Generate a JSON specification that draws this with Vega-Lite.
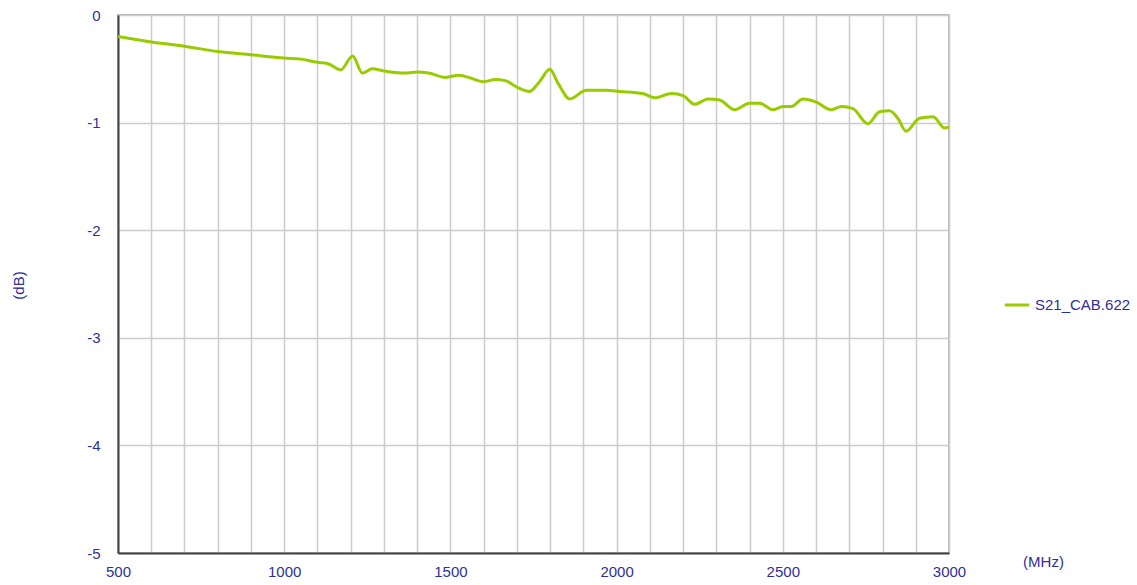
{
  "$schema": "https://vega.github.io/schema/vega-lite/v6.json",
  "width": 831,
  "height": 538,
  "autosize": {"type": "none"},
  "padding": {"left": 118, "top": 15, "right": 188, "bottom": 32},
  "background": "white",
  "config": {
    "view": {"stroke": "#a0a0a0", "strokeWidth": 1.5},
    "font": "Liberation Sans"
  },
  "data": {
    "values": [
      {"f": 500, "db": -0.20, "s": "S21_CAB.622"},
      {"f": 600, "db": -0.25, "s": "S21_CAB.622"},
      {"f": 700, "db": -0.29, "s": "S21_CAB.622"},
      {"f": 800, "db": -0.34, "s": "S21_CAB.622"},
      {"f": 900, "db": -0.37, "s": "S21_CAB.622"},
      {"f": 1000, "db": -0.40, "s": "S21_CAB.622"},
      {"f": 1050, "db": -0.41, "s": "S21_CAB.622"},
      {"f": 1100, "db": -0.44, "s": "S21_CAB.622"},
      {"f": 1130, "db": -0.45, "s": "S21_CAB.622"},
      {"f": 1170, "db": -0.51, "s": "S21_CAB.622"},
      {"f": 1206, "db": -0.38, "s": "S21_CAB.622"},
      {"f": 1235, "db": -0.54, "s": "S21_CAB.622"},
      {"f": 1265, "db": -0.50, "s": "S21_CAB.622"},
      {"f": 1300, "db": -0.52, "s": "S21_CAB.622"},
      {"f": 1365, "db": -0.54, "s": "S21_CAB.622"},
      {"f": 1400, "db": -0.53, "s": "S21_CAB.622"},
      {"f": 1435, "db": -0.54, "s": "S21_CAB.622"},
      {"f": 1485, "db": -0.58, "s": "S21_CAB.622"},
      {"f": 1525, "db": -0.56, "s": "S21_CAB.622"},
      {"f": 1555, "db": -0.58, "s": "S21_CAB.622"},
      {"f": 1600, "db": -0.62, "s": "S21_CAB.622"},
      {"f": 1635, "db": -0.60, "s": "S21_CAB.622"},
      {"f": 1665, "db": -0.61, "s": "S21_CAB.622"},
      {"f": 1700, "db": -0.67, "s": "S21_CAB.622"},
      {"f": 1738, "db": -0.71, "s": "S21_CAB.622"},
      {"f": 1768, "db": -0.62, "s": "S21_CAB.622"},
      {"f": 1799, "db": -0.505, "s": "S21_CAB.622"},
      {"f": 1824, "db": -0.635, "s": "S21_CAB.622"},
      {"f": 1859, "db": -0.78, "s": "S21_CAB.622"},
      {"f": 1909, "db": -0.70, "s": "S21_CAB.622"},
      {"f": 1969, "db": -0.70, "s": "S21_CAB.622"},
      {"f": 2009, "db": -0.71, "s": "S21_CAB.622"},
      {"f": 2079, "db": -0.73, "s": "S21_CAB.622"},
      {"f": 2115, "db": -0.77, "s": "S21_CAB.622"},
      {"f": 2165, "db": -0.73, "s": "S21_CAB.622"},
      {"f": 2200, "db": -0.75, "s": "S21_CAB.622"},
      {"f": 2235, "db": -0.83, "s": "S21_CAB.622"},
      {"f": 2275, "db": -0.78, "s": "S21_CAB.622"},
      {"f": 2310, "db": -0.79, "s": "S21_CAB.622"},
      {"f": 2355, "db": -0.88, "s": "S21_CAB.622"},
      {"f": 2400, "db": -0.82, "s": "S21_CAB.622"},
      {"f": 2430, "db": -0.82, "s": "S21_CAB.622"},
      {"f": 2471, "db": -0.88, "s": "S21_CAB.622"},
      {"f": 2501, "db": -0.85, "s": "S21_CAB.622"},
      {"f": 2526, "db": -0.85, "s": "S21_CAB.622"},
      {"f": 2561, "db": -0.78, "s": "S21_CAB.622"},
      {"f": 2601, "db": -0.81, "s": "S21_CAB.622"},
      {"f": 2646, "db": -0.88, "s": "S21_CAB.622"},
      {"f": 2676, "db": -0.85, "s": "S21_CAB.622"},
      {"f": 2711, "db": -0.87, "s": "S21_CAB.622"},
      {"f": 2756, "db": -1.01, "s": "S21_CAB.622"},
      {"f": 2791, "db": -0.90, "s": "S21_CAB.622"},
      {"f": 2821, "db": -0.89, "s": "S21_CAB.622"},
      {"f": 2846, "db": -0.96, "s": "S21_CAB.622"},
      {"f": 2871, "db": -1.08, "s": "S21_CAB.622"},
      {"f": 2911, "db": -0.96, "s": "S21_CAB.622"},
      {"f": 2952, "db": -0.945, "s": "S21_CAB.622"},
      {"f": 2987, "db": -1.05, "s": "S21_CAB.622"},
      {"f": 3000, "db": -1.04, "s": "S21_CAB.622"}
    ]
  },
  "mark": {"type": "line", "interpolate": "monotone", "strokeWidth": 3},
  "encoding": {
    "x": {
      "field": "f",
      "type": "quantitative",
      "scale": {"domain": [500, 3000], "nice": false, "zero": false},
      "axis": {
        "values": [500, 600, 700, 800, 900, 1000, 1100, 1200, 1300, 1400, 1500, 1600, 1700, 1800, 1900, 2000, 2100, 2200, 2300, 2400, 2500, 2600, 2700, 2800, 2900, 3000],
        "labelExpr": "datum.value % 500 === 0 ? datum.value + '' : ''",
        "grid": true,
        "gridColor": "#cccccc",
        "gridWidth": 1.5,
        "ticks": false,
        "domainColor": "#444444",
        "domainWidth": 2,
        "labelColor": "#2f2f9a",
        "labelFont": "Liberation Sans",
        "labelFontSize": 15,
        "labelPadding": 11,
        "labelFlush": false,
        "title": "(MHz)",
        "titleColor": "#2f2f9a",
        "titleFont": "Liberation Sans",
        "titleFontSize": 15,
        "titleFontWeight": "normal",
        "titleAnchor": "start",
        "titleAlign": "center",
        "titleBaseline": "middle",
        "titleX": 925,
        "titleY": 8
      }
    },
    "y": {
      "field": "db",
      "type": "quantitative",
      "scale": {"domain": [-5, 0], "nice": false},
      "axis": {
        "values": [-5, -4, -3, -2, -1, 0],
        "labelExpr": "datum.value + ''",
        "grid": true,
        "gridColor": "#cccccc",
        "gridWidth": 1.5,
        "ticks": false,
        "domainColor": "#444444",
        "domainWidth": 2,
        "labelColor": "#2f2f9a",
        "labelFont": "Liberation Sans",
        "labelFontSize": 15,
        "labelPadding": 18,
        "title": "(dB)",
        "titleColor": "#2f2f9a",
        "titleFont": "Liberation Sans",
        "titleFontSize": 15,
        "titleFontWeight": "normal",
        "titleAngle": -90,
        "titleAlign": "center",
        "titleBaseline": "middle",
        "titleX": -100,
        "titleY": 270
      }
    },
    "color": {
      "field": "s",
      "type": "nominal",
      "scale": {"range": ["#99cc00"]},
      "legend": {
        "title": null,
        "orient": "none",
        "legendX": 885,
        "legendY": 276,
        "symbolType": "stroke",
        "symbolStrokeWidth": 3,
        "symbolSize": 600,
        "labelColor": "#2f2f9a",
        "labelFont": "Liberation Sans",
        "labelFontSize": 15,
        "labelOffset": 4
      }
    }
  }
}
